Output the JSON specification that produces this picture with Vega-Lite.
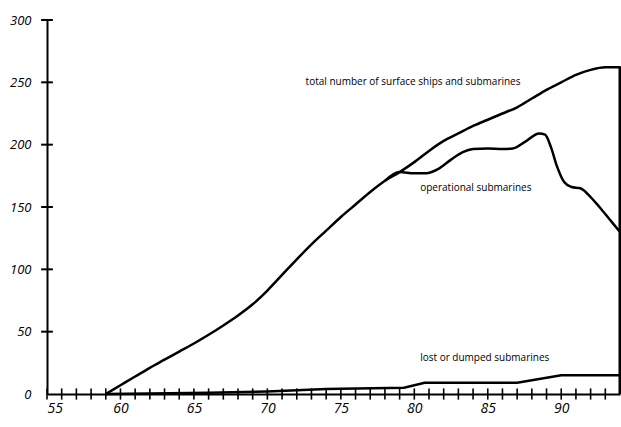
{
  "$schema": "https://vega.github.io/schema/vega-lite/v6.json",
  "width": 573,
  "height": 374,
  "autosize": {"type": "none"},
  "padding": {"left": 47, "top": 20, "right": 1, "bottom": 33},
  "background": "white",
  "config": {"view": {"stroke": null}},
  "datasets": {
    "lines": [
      {"series": "total", "year": 59, "value": 0},
      {"series": "total", "year": 60, "value": 7},
      {"series": "total", "year": 61, "value": 14},
      {"series": "total", "year": 62, "value": 21},
      {"series": "total", "year": 63, "value": 27.5},
      {"series": "total", "year": 64, "value": 34},
      {"series": "total", "year": 65, "value": 40.5},
      {"series": "total", "year": 66, "value": 47.5},
      {"series": "total", "year": 67, "value": 55},
      {"series": "total", "year": 68, "value": 63},
      {"series": "total", "year": 69, "value": 72},
      {"series": "total", "year": 70, "value": 83},
      {"series": "total", "year": 71, "value": 95.5},
      {"series": "total", "year": 72, "value": 108},
      {"series": "total", "year": 73, "value": 120},
      {"series": "total", "year": 74, "value": 131},
      {"series": "total", "year": 75, "value": 142},
      {"series": "total", "year": 76, "value": 152},
      {"series": "total", "year": 77, "value": 162},
      {"series": "total", "year": 78, "value": 171},
      {"series": "total", "year": 79, "value": 178},
      {"series": "total", "year": 80, "value": 186},
      {"series": "total", "year": 81, "value": 195},
      {"series": "total", "year": 82, "value": 203},
      {"series": "total", "year": 83, "value": 209},
      {"series": "total", "year": 84, "value": 215},
      {"series": "total", "year": 85, "value": 220},
      {"series": "total", "year": 86, "value": 225},
      {"series": "total", "year": 87, "value": 230},
      {"series": "total", "year": 88, "value": 237},
      {"series": "total", "year": 89, "value": 244},
      {"series": "total", "year": 90, "value": 250},
      {"series": "total", "year": 91, "value": 256},
      {"series": "total", "year": 92, "value": 260},
      {"series": "total", "year": 93, "value": 262},
      {"series": "total", "year": 94, "value": 262},
      {"series": "operational", "year": 78, "value": 171},
      {"series": "operational", "year": 79, "value": 178},
      {"series": "operational", "year": 80, "value": 177},
      {"series": "operational", "year": 80.8, "value": 177},
      {"series": "operational", "year": 81.7, "value": 181},
      {"series": "operational", "year": 82.5, "value": 188},
      {"series": "operational", "year": 83.3, "value": 194},
      {"series": "operational", "year": 84, "value": 196.5},
      {"series": "operational", "year": 85, "value": 197},
      {"series": "operational", "year": 86, "value": 196.5},
      {"series": "operational", "year": 86.7, "value": 197},
      {"series": "operational", "year": 87.5, "value": 202},
      {"series": "operational", "year": 88.5, "value": 209},
      {"series": "operational", "year": 88.9, "value": 208},
      {"series": "operational", "year": 89.3, "value": 198},
      {"series": "operational", "year": 89.7, "value": 183},
      {"series": "operational", "year": 90.2, "value": 170},
      {"series": "operational", "year": 90.7, "value": 166},
      {"series": "operational", "year": 91.3, "value": 165},
      {"series": "operational", "year": 92, "value": 158},
      {"series": "operational", "year": 92.6, "value": 150},
      {"series": "operational", "year": 93.3, "value": 140},
      {"series": "operational", "year": 94, "value": 130}
    ],
    "lost": [
      {"year": 59, "value": 0},
      {"year": 62, "value": 0.5},
      {"year": 66, "value": 1},
      {"year": 70, "value": 2},
      {"year": 74, "value": 4},
      {"year": 79.3, "value": 5},
      {"year": 80.7, "value": 9},
      {"year": 87, "value": 9},
      {"year": 90, "value": 15},
      {"year": 94, "value": 15}
    ],
    "xticks": [
      {"year": 55}, {"year": 56}, {"year": 57}, {"year": 58}, {"year": 59},
      {"year": 60}, {"year": 61}, {"year": 62}, {"year": 63}, {"year": 64},
      {"year": 65}, {"year": 66}, {"year": 67}, {"year": 68}, {"year": 69},
      {"year": 70}, {"year": 71}, {"year": 72}, {"year": 73}, {"year": 74},
      {"year": 75}, {"year": 76}, {"year": 77}, {"year": 78}, {"year": 79},
      {"year": 80}, {"year": 81}, {"year": 82}, {"year": 83}, {"year": 84},
      {"year": 85}, {"year": 86}, {"year": 87}, {"year": 88}, {"year": 89},
      {"year": 90}, {"year": 91}, {"year": 92}, {"year": 93}
    ],
    "yticks": [
      {"value": 50}, {"value": 100}, {"value": 150}, {"value": 200}, {"value": 250}, {"value": 300}
    ],
    "edge": [{"year": 94, "value": 0, "value2": 263}],
    "labels": [
      {"label": "total number of surface ships and submarines", "year": 72.6, "value": 250},
      {"label": "operational submarines", "year": 80.4, "value": 165},
      {"label": "lost or dumped submarines", "year": 80.4, "value": 29}
    ]
  },
  "layer": [
    {
      "data": {"name": "lines"},
      "mark": {"type": "line", "interpolate": "monotone", "color": "black", "strokeWidth": 2.5},
      "encoding": {
        "x": {
          "field": "year", "type": "quantitative",
          "scale": {"domain": [55, 94], "nice": false, "zero": false},
          "axis": {
            "title": null, "values": [55, 60, 65, 70, 75, 80, 85, 90],
            "ticks": false, "tickSize": 0, "grid": false,
            "domainColor": "black", "domainWidth": 2,
            "labelFont": "Open Sans", "labelFontStyle": "italic", "labelFontSize": 14,
            "labelColor": "black", "labelPadding": 7
          }
        },
        "y": {
          "field": "value", "type": "quantitative",
          "scale": {"domain": [0, 300], "nice": false},
          "axis": {
            "title": null, "values": [0, 50, 100, 150, 200, 250, 300],
            "ticks": false, "tickSize": 0, "grid": false,
            "domainColor": "black", "domainWidth": 2,
            "labelFont": "Open Sans", "labelFontStyle": "italic", "labelFontSize": 13,
            "labelColor": "black", "labelPadding": 16
          }
        },
        "detail": {"field": "series"}
      }
    },
    {
      "data": {"name": "xticks"},
      "mark": {"type": "rule", "strokeWidth": 1.6, "color": "black"},
      "encoding": {
        "x": {"field": "year", "type": "quantitative"},
        "y": {"datum": -4.5, "type": "quantitative"},
        "y2": {"datum": 4.5}
      }
    },
    {
      "data": {"name": "yticks"},
      "mark": {"type": "rule", "strokeWidth": 2, "color": "black"},
      "encoding": {
        "y": {"field": "value", "type": "quantitative"},
        "x": {"datum": 54.6, "type": "quantitative"},
        "x2": {"datum": 55.4}
      }
    },
    {
      "data": {"name": "lost"},
      "mark": {"type": "line", "interpolate": "linear", "color": "black", "strokeWidth": 2.5},
      "encoding": {
        "x": {"field": "year", "type": "quantitative"},
        "y": {"field": "value", "type": "quantitative"}
      }
    },
    {
      "data": {"name": "edge"},
      "mark": {"type": "rule", "color": "black", "strokeWidth": 3},
      "encoding": {
        "x": {"field": "year", "type": "quantitative"},
        "y": {"field": "value", "type": "quantitative"},
        "y2": {"field": "value2"}
      }
    },
    {
      "data": {"name": "labels"},
      "mark": {"type": "text", "align": "left", "baseline": "middle", "font": "Open Sans", "fontSize": 10, "color": "black"},
      "encoding": {
        "x": {"field": "year", "type": "quantitative"},
        "y": {"field": "value", "type": "quantitative"},
        "text": {"field": "label"}
      }
    }
  ]
}
